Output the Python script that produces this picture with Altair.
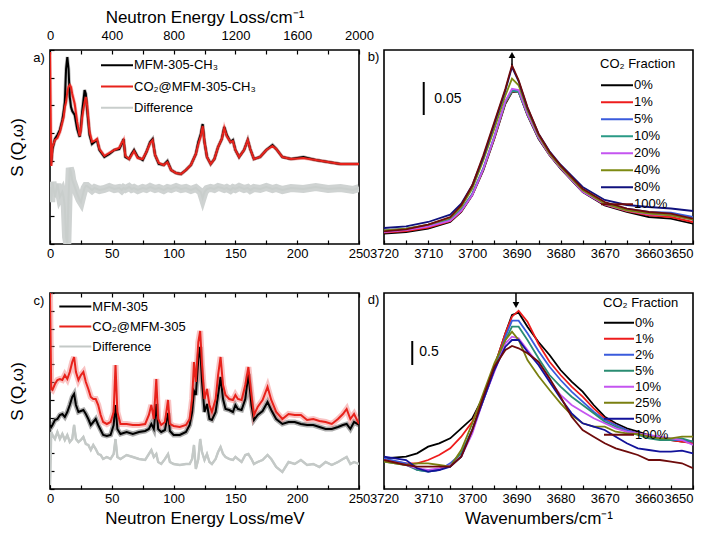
import altair as alt
import pandas as pd

FONT = "Liberation Sans"

# ---------------- panel a: MFM-305-CH3 INS spectra ----------------
A_X = [0, 1, 2, 4, 6, 8, 10, 11, 12, 13, 14, 15, 16, 17, 18, 20, 22, 24, 25, 26,
       28, 29, 30, 32, 34, 36, 38, 40, 44, 48, 52, 56, 58, 59.5, 61, 64, 66, 68, 71, 75,
       78, 81, 83, 85, 88, 92, 95, 98, 102, 106, 110, 114, 118, 120, 122, 123.5, 125, 127, 130, 133,
       136, 139, 141, 143, 146, 148, 150, 153, 157, 160, 162, 165, 170, 175, 180, 183, 188, 195, 205, 215,
       225, 235, 245, 250]
A_MFM = [79, 82, 95, 105, 109, 114, 124, 132, 142, 175,
         187, 175, 147, 137, 133, 129, 115, 107, 117, 132,
         154, 150, 135, 109, 100, 102, 104, 94, 87, 90,
         94, 95, 100, 105, 87, 85, 90, 94, 87, 84,
         92, 102, 105, 89, 80, 79, 83, 74, 71, 70,
         74, 79, 90, 102, 110, 120, 102, 87, 80, 85,
         97, 105, 117, 109, 102, 104, 94, 87, 94, 104,
         95, 85, 87, 94, 99, 95, 87, 85, 87, 84,
         82, 80, 80, 80]
A_CO2 = [192, 78, 97, 104, 106, 112, 122, 127, 137, 142,
         152, 157, 159, 157, 150, 140, 122, 108, 114, 127,
         142, 147, 139, 112, 102, 103, 105, 95, 88, 91,
         94, 96, 101, 104, 88, 85, 89, 93, 86, 85,
         92, 101, 104, 89, 81, 79, 82, 74, 71, 70,
         74, 79, 90, 100, 108, 118, 102, 87, 80, 85,
         97, 105, 116, 108, 102, 103, 94, 87, 94, 104,
         95, 85, 87, 94, 98, 95, 87, 85, 86, 84,
         82, 80, 80, 80]
A_DIFF = [57, 42, 62, 47, 60, 47, 52, 47, 37, 7,
          0, 47, 76, 72, 64, 57, 50, 44, 42, 47,
          56, 58, 58, 56, 54, 56, 55, 54, 55, 57,
          55, 56, 54, 56, 55, 57, 55, 56, 54, 56,
          55, 57, 56, 55, 56, 54, 56, 55, 57, 55,
          56, 54, 56, 54, 52, 46, 52, 55, 56, 55,
          57, 56, 55, 56, 54, 56, 55, 57, 55, 56,
          54, 56, 55, 57, 55, 56, 54, 56, 55, 57,
          55, 56, 54, 56]
A_NAMES = ["MFM-305-CH₃", "CO₂@MFM-305-CH₃", "Difference"]

# ---------------- panel c: MFM-305 INS spectra ----------------
C_X = [0, 1, 2, 4, 6, 8, 10, 12, 14, 16,
       18, 19.5, 21, 23, 25, 27, 29, 31, 33, 35,
       37, 39, 41, 43, 46, 49, 51.5, 53, 54.5, 57,
       62, 67, 72, 77, 80, 82, 84, 86, 87.5, 90,
       93, 95.5, 97, 100, 105, 110, 113, 115, 116.5, 118,
       120, 121.5, 123, 125, 127, 129, 131, 134, 136, 138,
       140, 142, 145, 148, 150, 152, 155, 158, 160.5, 163,
       165, 168, 172, 176, 179, 183, 188, 193, 198, 203,
       208, 213, 218, 223, 228, 233, 237, 240, 243, 246,
       250]
C_MFM = [64, 62, 64, 69, 70, 74, 75, 72, 77, 84,
         92, 95, 84, 77, 78, 79, 75, 70, 64, 67,
         70, 64, 59, 54, 53, 54, 64, 84, 60, 55,
         57, 55, 57, 58, 60, 65, 60, 85, 60, 57,
         59, 76, 58, 54, 54, 57, 64, 77, 98, 94,
         130, 142, 107, 77, 85, 70, 69, 77, 94, 112,
         90, 80, 79, 77, 84, 80, 79, 90, 115, 84,
         69, 74, 78, 87, 79, 70, 65, 67, 67, 65,
         64, 64, 62, 60, 60, 62, 64, 65, 60, 67,
         64]
C_CO2 = [196, 100, 99, 105, 109, 110, 109, 114, 110, 117,
         127, 132, 117, 109, 114, 117, 107, 100, 92, 90,
         90, 84, 74, 67, 65, 67, 77, 124, 77, 65,
         65, 64, 64, 65, 74, 84, 70, 110, 70, 64,
         67, 89, 65, 63, 62, 64, 70, 90, 127, 107,
         147, 158, 124, 90, 100, 84, 77, 90, 114, 132,
         104, 94, 90, 89, 94, 90, 89, 104, 122, 94,
         74, 82, 89, 102, 89, 77, 70, 75, 74, 74,
         69, 70, 68, 67, 65, 70, 75, 80, 70, 75,
         65]
C_DIFF = [4, 57, 54, 50, 57, 50, 55, 49, 54, 47,
          50, 64, 50, 47, 49, 52, 45, 44, 39, 44,
          40, 35, 34, 30, 32, 30, 35, 50, 32, 30,
          34, 32, 30, 29, 35, 39, 32, 35, 27, 25,
          30, 35, 27, 25, 24, 25, 25, 30, 44, 20,
          30, 50, 37, 29, 35, 27, 25, 30, 37, 42,
          35, 32, 30, 29, 32, 30, 27, 34, 35, 30,
          25, 27, 29, 34, 30, 22, 17, 27, 25, 29,
          24, 25, 22, 27, 24, 27, 30, 32, 25, 27,
          25]
C_NAMES = ["MFM-305", "CO₂@MFM-305", "Difference"]

# ---------------- panel b: IR, MFM-305-CH3 ----------------
B_X = [3720, 3715, 3710, 3705, 3702.5, 3700, 3697.5, 3695, 3692.5, 3691, 3689.5,
       3687.5, 3685, 3682.5, 3680, 3675, 3670, 3665, 3660, 3655, 3650]
B_LABELS = ["0%", "1%", "5%", "10%", "20%", "40%", "80%", "100%"]
B_0 = [8.3, 10, 13.3, 20, 30, 46.7, 71.7, 103.3, 138.3, 150, 150, 126.7, 103.3, 86.7, 73.3, 50, 36.7, 30, 25, 23.3, 18.3]
B_1 = [9.3, 11, 14.3, 20.7, 30.7, 47.3, 72.7, 104, 139.3, 150.7, 150, 127.3, 104, 87.3, 74, 50.7, 37.3, 31, 26.7, 25, 20]
B_5 = [11.7, 13.3, 16.7, 22.7, 32.3, 48.3, 74, 105.7, 140.7, 151.7, 150.7, 128.3, 105, 88.3, 75, 51.7, 39.3, 33.3, 30, 29.3, 25]
B_10 = [10.7, 13, 16, 22, 31.7, 47.7, 73.3, 105, 140, 151, 150, 127.7, 104.3, 87.7, 74.3, 51, 38.7, 32.3, 28.7, 27.7, 23.3]
B_20 = [10, 12, 15.3, 21.3, 31, 47, 73, 105, 141, 153.3, 152, 128, 104.7, 87.3, 74, 50.3, 37.7, 31.3, 27.7, 26.7, 22.3]
B_40 = [11.7, 13.3, 17.3, 24, 35, 53.3, 81.7, 113.3, 146.7, 163.3, 156.7, 131.7, 106.7, 88.3, 75, 51.7, 38.3, 31.7, 28.3, 26.7, 22.3]
B_80 = [14, 15.7, 20, 27.3, 38.3, 56.7, 85, 118.3, 151.7, 175, 160.7, 134, 108.3, 90.7, 77.3, 55, 42, 37, 35, 33.5, 31]
B_100 = [10.7, 12.7, 17.3, 25, 36.7, 56.7, 86.7, 120, 153.3, 176.7, 161.7, 135, 108.3, 90, 76.7, 53.3, 40, 33.3, 30, 28.3, 23.3]
B_SERIES = [B_0, B_1, B_5, B_10, B_20, B_40, B_80, B_100]
B_COLORS = ["#000000", "#ee1c1c", "#3a5bdc", "#2a9a86", "#c455f0", "#7d8a12", "#10127e", "#6e0b0b"]

# ---------------- panel d: IR, MFM-305 ----------------
D_X = [3720, 3715, 3712.5, 3710, 3707.5, 3705, 3702.5, 3700, 3697.5, 3695, 3692.5, 3691, 3689.5,
       3687.5, 3685, 3682.5, 3680, 3677.5, 3675, 3672.5, 3670, 3667.5, 3665, 3662.5, 3660, 3657.5,
       3655, 3652.5, 3650]
D_LABELS = ["0%", "1%", "2%", "5%", "10%", "25%", "50%", "100%"]
D_0 = [28.7, 30.3, 33.7, 40.3, 43.7, 48.7, 58.7, 68.7, 90.3, 120.3, 153.7, 172, 174.3, 160.3, 145,
       132, 117, 105.3, 95.3, 82, 70.3, 63.7, 58.7, 55.3, 52, 48.7, 47, 45.3, 45.3]
D_1 = [27, 23.7, 23.7, 27, 32, 38.7, 50.3, 65.3, 90.3, 120.3, 153.7, 170.3, 176.3, 165.3, 143,
       125.3, 112, 100.3, 90.3, 78.7, 68.7, 62, 57, 53.7, 51, 48.7, 47, 45.3, 43.7]
D_2 = [28.7, 23.7, 17, 15.3, 17, 23.7, 33.7, 57, 87, 117, 150.3, 166.3, 166.3, 153.7, 136,
       120.3, 107, 95.3, 85.3, 75.3, 67, 62, 57, 53.7, 50.3, 48.7, 47, 47, 45.3]
D_5 = [25.3, 22, 17, 15.3, 17, 22, 33.7, 57, 87, 117, 147, 160.3, 160.3, 147, 128.7,
       112, 100.3, 90.3, 82, 73.7, 65.3, 60.3, 55.3, 52, 48.7, 47, 47, 48.7, 45.3]
D_10 = [27, 22, 18.7, 17, 18.7, 22, 30.3, 53.7, 87, 115.3, 143.7, 150.3, 148.7, 137, 123,
        107, 92, 82, 75.3, 68.7, 63.7, 58.7, 55.3, 53.7, 52, 50.3, 48.7, 47, 42]
D_25 = [25.3, 22, 23.7, 23.7, 22, 20.3, 37, 63.7, 93.7, 123.7, 147, 155.3, 147, 127, 111,
        97, 83.7, 72, 63.7, 60.3, 60.3, 55.3, 53.7, 53, 50.3, 48.7, 48.7, 50.3, 50.3]
D_50 = [30.3, 27, 18.7, 15.3, 17, 20.3, 30.3, 57, 87, 117, 140.3, 147, 147, 135.3, 122,
        105.3, 88.7, 73.7, 63.7, 60.3, 57, 50.3, 43.7, 38.7, 37, 35.3, 35.3, 36.3, 33.7]
D_100 = [27, 22, 20.3, 20.3, 20.3, 20.3, 30.3, 57, 90.3, 120.3, 137, 141, 138.7, 133.7, 125.3,
         108.7, 90.3, 70.3, 57, 50.3, 43.7, 38.7, 35.3, 32, 27, 27, 25.3, 23.7, 18.7]
D_SERIES = [D_0, D_1, D_2, D_5, D_10, D_25, D_50, D_100]
D_COLORS = ["#000000", "#ee1c1c", "#3a5bdc", "#2a8c72", "#c455f0", "#7a7f10", "#12129a", "#6e0b0b"]

# annotations (data coordinates)
B_BAR = {"x": 3711, "y": 127, "y2": 160, "label": "0.05", "lx": 3708.6, "ly": 143.5}
D_BAR = {"x": 3713.6, "y": 122, "y2": 146, "label": "0.5", "lx": 3712.0, "ly": 135}
B_ARROW = {"x": 3691, "y": 177, "y2": 184, "tip": 187}
D_ARROW = {"x": 3690.1, "y": 194, "y2": 184, "tip": 182}

MEV_TICKS = list(range(0, 251, 25))
CM_TICKS = list(range(0, 2001, 200))
WN_TICKS = [3720 - 5 * i for i in range(15)]

W = 309
H_TOP = 194
H_BOT = 196


def x_axis(values, every=None, orient="bottom", title=None, lp=3, tp=10, align=None):
    kw = dict(values=values, orient=orient, tickSize=4, offset=-4, domain=False, grid=False,
              labelFlush=False, labelOverlap=False, format="d", labelFontSize=13,
              labelPadding=lp, tickColor="black", tickWidth=1.2)
    if align is not None:
        kw["labelAlign"] = align
    if every:
        kw["labelExpr"] = f"datum.value % {every} == 0 ? datum.label : ''"
    else:
        kw["labels"] = False
    if title:
        kw.update(title=title, titleFontSize=17, titlePadding=tp, titleFontWeight="normal")
    else:
        kw["title"] = None
    return alt.Axis(**kw)


def y_axis_ticks(n, top):
    return alt.Axis(values=[i * top / n for i in range(n + 1)], labels=False, tickSize=4, offset=-4,
                    domain=False, grid=False, title="S (Q,ω)", titleFontSize=17,
                    titleFontWeight="normal", titlePadding=22.5, tickColor="black", tickWidth=1.2)


def panel_label(text, dx, dy):
    return alt.Chart(pd.DataFrame({"t": [text]})).mark_text(
        fontSize=13, align="center", baseline="middle", color="black").encode(
        x=alt.value(dx), y=alt.value(dy), text="t:N")


def ins_panel(xs, series, names, colors, ytop, nticks, legend, top_axis, haze, gray_w, xtitle, lab, height):
    X = alt.X("x:Q", scale=alt.Scale(domain=[0, 250], nice=False, zero=False),
              axis=x_axis(MEV_TICKS, 50, "bottom", xtitle, lp=3, tp=5))
    Y = alt.Y("y:Q", scale=alt.Scale(domain=[0, ytop], nice=False, zero=False),
              axis=y_axis_ticks(nticks, ytop))
    C = alt.Color("s:N", scale=alt.Scale(domain=names, range=colors), legend=legend)
    dfs = [pd.DataFrame({"x": xs, "y": v, "s": n}) for v, n in zip(series, names)]
    layers = []
    layers.append(alt.Chart(dfs[2]).mark_line(strokeWidth=gray_w, clip=True, opacity=haze[2][1],
                                              color=haze[2][0]).encode(x=X, y=Y))
    for i in (0, 1):
        layers.append(alt.Chart(dfs[i]).mark_line(strokeWidth=haze[i][2], clip=True,
                                                  opacity=haze[i][1], color=haze[i][0]).encode(x=X, y=Y))
    for i in (2, 0, 1):
        layers.append(alt.Chart(dfs[i]).mark_line(strokeWidth=2, clip=True).encode(x=X, y=Y, color=C))
    inner = alt.layer(*layers)
    top = alt.Chart(pd.DataFrame({"t": top_axis["domain"]})).mark_point(opacity=0).encode(
        x=alt.X("t:Q", scale=alt.Scale(domain=top_axis["domain"], nice=False, zero=False),
                axis=top_axis["axis"]))
    return alt.layer(inner, top, lab).resolve_scale(x="independent").properties(width=W, height=height)


def ins_legend(lx, ly, clip_h, rpad):
    return alt.Legend(orient="none", legendX=lx, legendY=ly, title=None, symbolType="stroke",
                      symbolSize=1024, symbolStrokeWidth=2, labelFontSize=13, labelOffset=0,
                      clipHeight=clip_h, rowPadding=rpad, padding=0, labelFont=FONT, labelColor="black")


pa = ins_panel(A_X, [A_MFM, A_CO2, A_DIFF], A_NAMES, ["#000000", "#e8221b", "#c9cecc"], H_TOP, 7,
               ins_legend(50, 5.8, 19, 2.2),
               {"domain": [0, 2000], "axis": x_axis(CM_TICKS, 400, "top", "Neutron Energy Loss/cm⁻¹", lp=8, tp=3)},
               [("#333333", 0.35, 3.5), ("#e8221b", 0.3, 3.5), ("#cfd3d2", 1.0, 8)], 8, None,
               panel_label("a)", -11, 8), H_TOP)

pc = ins_panel(C_X, [C_MFM, C_CO2, C_DIFF], C_NAMES, ["#000000", "#e8221b", "#c4c9c7"], H_BOT, 11,
               ins_legend(8.3, 4.8, 17.5, 2),
               {"domain": [0, 250], "axis": x_axis(MEV_TICKS, None, "top")},
               [("#444444", 0.45, 5), ("#f2797a", 0.45, 6), ("#c4c9c7", 1.0, 2.4)], 2.4,
               "Neutron Energy Loss/meV", panel_label("c)", -11, 8), H_BOT)

LAST_RIGHT = {"condition": {"test": "datum.value == 3650", "value": "right"}, "value": "center"}


def ir_panel(xs, series, labels, colors, legend, bar, arrow, arrow_shape, xtitle, lab, height, ydom):
    X = alt.X("x:Q", scale=alt.Scale(domain=[3720, 3650], nice=False, zero=False),
              axis=x_axis(WN_TICKS, 10, "bottom", xtitle, lp=3, tp=5, align=LAST_RIGHT))
    Y = alt.Y("y:Q", scale=alt.Scale(domain=ydom, nice=False, zero=False), axis=None)
    C = alt.Color("s:N", scale=alt.Scale(domain=labels, range=colors), legend=legend)
    layers = []
    for v, n in zip(series, labels):
        df = pd.DataFrame({"x": xs, "y": v, "s": n})
        layers.append(alt.Chart(df).mark_line(strokeWidth=1.8, clip=True).encode(x=X, y=Y, color=C))
    bar_df = pd.DataFrame({"x": [bar["x"]], "y": [bar["y"]], "y2": [bar["y2"]]})
    layers.append(alt.Chart(bar_df).mark_rule(strokeWidth=2, color="black").encode(x=X, y=Y, y2="y2:Q"))
    txt_df = pd.DataFrame({"x": [bar["lx"]], "y": [bar["ly"]], "t": [bar["label"]]})
    layers.append(alt.Chart(txt_df).mark_text(align="left", baseline="middle", fontSize=14,
                                              color="black").encode(x=X, y=Y, text="t:N"))
    ar_df = pd.DataFrame({"x": [arrow["x"]], "y": [arrow["y"]], "y2": [arrow["y2"]]})
    layers.append(alt.Chart(ar_df).mark_rule(strokeWidth=1.5, color="black").encode(x=X, y=Y, y2="y2:Q"))
    tip_df = pd.DataFrame({"x": [arrow["x"]], "y": [arrow["tip"]]})
    layers.append(alt.Chart(tip_df).mark_point(shape=arrow_shape, filled=True, size=45, color="black",
                                               opacity=1).encode(x=X, y=Y))
    layers.append(lab)
    return alt.layer(*layers).properties(width=W, height=height)


def ir_legend(lx, ly, size, clip_h, tpad):
    return alt.Legend(orient="none", legendX=lx, legendY=ly, title="CO₂ Fraction", titleFontSize=13,
                      titleFontWeight="normal", titleFont=FONT, titleColor="black", titlePadding=tpad,
                      symbolType="stroke", symbolSize=size, symbolStrokeWidth=2, labelFontSize=13,
                      labelOffset=0, clipHeight=clip_h, rowPadding=2, padding=0, labelFont=FONT,
                      labelColor="black")


pb = ir_panel(B_X, B_SERIES, B_LABELS, B_COLORS, ir_legend(216, 8, 1024, 14.6, 7), B_BAR, B_ARROW,
              "triangle-up", None, panel_label("b)", -10.5, 7), H_TOP, [-2, 192])
pd_ = ir_panel(D_X, D_SERIES, D_LABELS, D_COLORS, ir_legend(219, 4, 900, 13.6, 6), D_BAR, D_ARROW,
               "triangle-down", "Wavenumbers/cm⁻¹", panel_label("d)", -10.5, 6.5), H_BOT, [-2, 194])

chart = alt.concat(pa, pb, pc, pd_, columns=2, spacing={"row": 49, "column": 25}, bounds="flush") \
    .resolve_scale(color="independent", x="independent", y="independent") \
    .properties(padding={"left": 0, "top": -1, "right": 0, "bottom": 0}) \
    .configure_view(stroke="black", strokeWidth=1.6) \
    .configure_axis(labelFont=FONT, titleFont=FONT, labelColor="black", titleColor="black") \
    .configure_text(font=FONT) \
    .configure_legend(labelFont=FONT, titleFont=FONT)

chart.save("out.html", embed_options={"renderer": "svg", "actions": False})
